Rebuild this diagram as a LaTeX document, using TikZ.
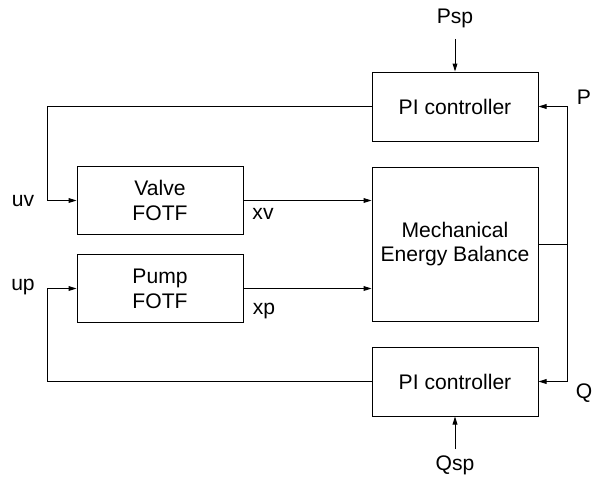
\documentclass[tikz,border=0pt]{standalone}
\usepackage{fontspec}
\setmainfont{Liberation Sans}
\usepackage{tikz}
\usetikzlibrary{arrows.meta,positioning}

\begin{document}
\begin{tikzpicture}[
    x=0.5pt, y=-0.5pt,
    font=\fontsize{10.55}{12.4}\selectfont,
    node distance=12.5pt and 12.5pt,
    block/.style={
        draw,
        line width=0.5pt,
        align=center,
        minimum width=83pt,
        minimum height=34pt,
        inner sep=3pt
    },
    ctrl/.style={block, minimum height=34.5pt},
    plant/.style={block, minimum height=77pt},
    sig/.style={inner sep=3pt},
    arrow/.style={-{Triangle[length=4pt,width=2.4pt]}, line width=0.5pt}
]
\useasboundingbox (0,0) rectangle (592,482);

\node[plant] (meb) at (455,244) {Mechanical\\Energy Balance};
\node[ctrl, above=of meb] (piP) {PI controller};
\node[ctrl, below=of meb] (piQ) {PI controller};
\node[block] (valve) at (160,200.5) {Valve\\FOTF};
\node[block, below=9.5pt of valve] (pump) {Pump\\FOTF};

\node[sig] (psp) at (455,18) {Psp};
\node[sig] (qsp) at (455,465) {Qsp};
\node[sig] (pout) at (584,97) {P};
\node[sig] (qout) at (584,393) {Q};
\node[sig] (uv) at (23,201) {uv};
\node[sig] (up) at (23,287) {up};
\node[sig] (xv) at (263,214) {xv};
\node[sig] (xp) at (264,311) {xp};

\coordinate (split) at (567,244);
\coordinate[left=14.5pt of valve.west] (fbv);
\coordinate[left=14.5pt of pump.west] (fbp);

\draw[arrow] (valve.east) -- (valve.east -| meb.west);
\draw[arrow] (pump.east) -- (pump.east -| meb.west);
\draw[line width=0.5pt] (meb.east) -- (split);
\draw[arrow] (split) |- (piP.east);
\draw[arrow] (split) |- (piQ.east);
\draw[arrow] (piP.west) -| (fbv) -- (valve.west);
\draw[arrow] (piQ.west) -| (fbp) -- (pump.west);
\draw[arrow, shorten <=2.5pt] (psp) -- (piP);
\draw[arrow] (qsp) -- (piQ);
\end{tikzpicture}
\end{document}
